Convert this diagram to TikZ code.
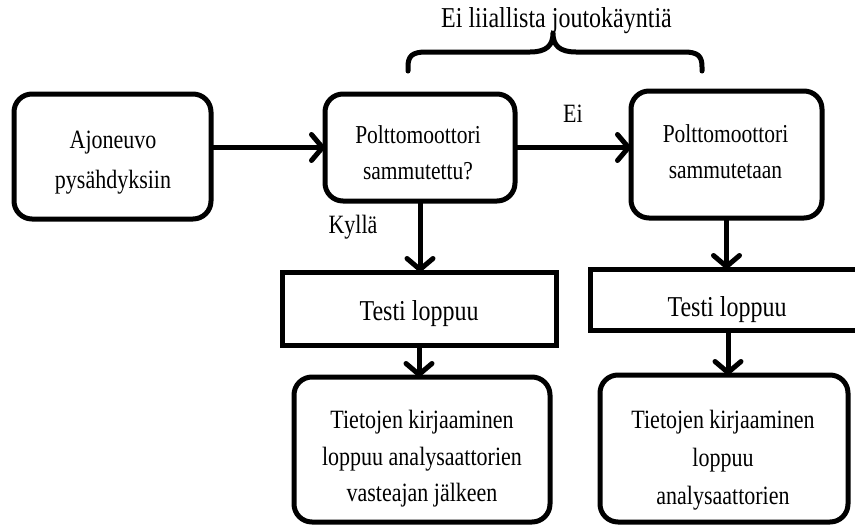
\documentclass[tikz,border=0pt]{standalone}
\usepackage{fontspec}
\usepackage{graphicx}
\setmainfont{Liberation Serif}
\usetikzlibrary{arrows.meta}
\newcommand{\vs}[1]{\scalebox{1}[1.2]{#1}}
\tikzset{
  roundbox/.style={draw, line width=5pt, rounded corners=18pt, inner sep=0pt, outer sep=0pt, fill=white},
  sharpbox/.style={draw, line width=5pt, inner sep=0pt, outer sep=0pt, fill=white},
  txt/.style={align=center, inner sep=0pt, font=\fontsize{22}{36.5}\selectfont},
  bigtxt/.style={align=center, inner sep=0pt, font=\fontsize{24}{36}\selectfont},
  arr/.style={line width=5pt, -{Straight Barb[length=11pt,width=26pt,round]}},
  bracestyle/.style={line width=5pt, line cap=round, line join=round}
}
\begin{document}
\begin{tikzpicture}[x=1pt,y=-1pt]
\clip (0,0) rectangle (855,525);
\fill[white] (0,0) rectangle (855,525);
% boxes
\node[roundbox, minimum width=197pt, minimum height=125pt] (a) at (112.5,156.5) {};
\node[roundbox, minimum width=190pt, minimum height=107pt] (b) at (420,147.5) {};
\node[roundbox, minimum width=191pt, minimum height=127pt] (c) at (726.5,154.5) {};
\node[sharpbox, minimum width=274pt, minimum height=73pt] (d) at (419,308.5) {};
\node[roundbox, minimum width=256pt, minimum height=145pt] (e) at (422,449.5) {};
\node[sharpbox, minimum width=276pt, minimum height=61pt] (f) at (728,299.5) {};
\node[roundbox, minimum width=248pt, minimum height=147pt] (g) at (724,448.5) {};
% texts
\node[txt, font=\fontsize{22}{40}\selectfont] (at) at (113,163) {\vs{Ajoneuvo}\\\vs{pysähdyksiin}};
\node[txt, font=\fontsize{21.5}{36}\selectfont] (bt) at (418,153) {\vs{Polttomoottori}\\\vs{sammutettu?}};
\node[txt, font=\fontsize{21.5}{36}\selectfont] (ct) at (725.5,152) {\vs{Polttomoottori}\\\vs{sammutetaan}};
\node[bigtxt] (dt) at (419,314) {\vs{Testi loppuu}};
\node[bigtxt] (ft) at (727,310) {\vs{Testi loppuu}};
\node[txt] (et) at (422,459) {\vs{Tietojen kirjaaminen}\\\vs{loppuu analysaattorien}\\\vs{vasteajan jälkeen}};
\node[txt, font=\fontsize{22}{38}\selectfont] (gt) at (723,460.5) {\vs{Tietojen kirjaaminen}\\\vs{loppuu}\\\vs{analysaattorien}};
% labels
\node[txt] (ei) at (573,114) {\vs{Ei}};
\node[txt] (kylla) at (353,227) {\vs{Kyllä}};
\node[bigtxt] (joutok) at (556.5,21) {\vs{Ei liiallista joutokäyntiä}};
% connectors
\draw[arr] (a.east |- b.west) -- (b.west);
\draw[arr] (b.east) -- (b.east -| c.west);
\draw[arr] (b.south) -- (b.south |- d.north);
\draw[arr] (d.south) -- (d.south |- e.north);
\draw[arr] (c.south) -- (c.south |- f.north);
\draw[arr] (f.south) -- (f.south |- g.north);
% brace
\draw[bracestyle] (408,71) -- (408,67) .. controls (408,56) and (412,52) .. (426,52)
  -- (530,52) .. controls (547,52) and (553,45) .. (553,33)
  .. controls (553,45) and (559,52) .. (576,52)
  -- (684,52) .. controls (698,52) and (702,56) .. (702,67) -- (702,71);
\end{tikzpicture}
\end{document}
